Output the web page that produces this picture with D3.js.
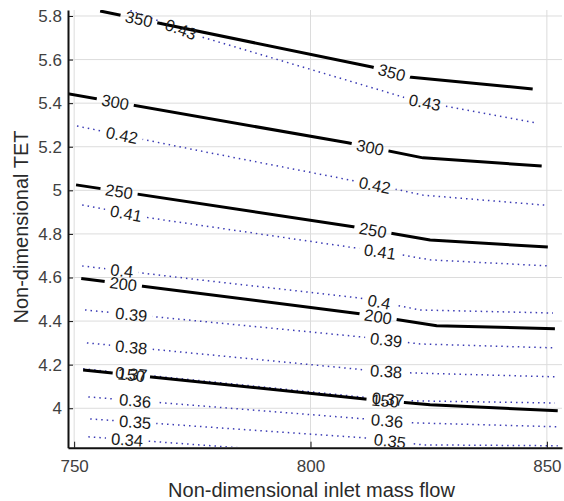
<!DOCTYPE html>
<html>
<head>
<meta charset="utf-8">
<script src="https://cdn.jsdelivr.net/npm/d3@7"></script>
<style>
body { margin: 0; background: #fff; }
svg { display: block; }
</style>
</head>
<body>
<script>
var width = 564, height = 501;
var plotLeft = 68, plotRight = 562, plotTop = 10, plotBottom = 447.7;

// axis limits and ticks
var xLim = [748.7, 853.2];
var yLim = [3.819, 5.8275];
var xTicks = [750, 800, 850];
var yTicks = [4, 4.2, 4.4, 4.6, 4.8, 5, 5.2, 5.4, 5.6, 5.8];

// solid contours (black), points as [mass flow, TET]
var solidLevels = ["350", "300", "250", "200", "150"];
var solidLines = [
   [[755.5, 5.823], [813.0, 5.566], [820.8, 5.520], [847.0, 5.465]],
   [[748.0, 5.446], [807.9, 5.218], [823.8, 5.149], [848.9, 5.112]],
   [[750.4, 5.025], [809.4, 4.832], [825.3, 4.772], [850.2, 4.740]],
   [[751.5, 4.595], [810.4, 4.434], [826.7, 4.379], [851.7, 4.365]],
   [[751.9, 4.176], [811.5, 4.043], [825.3, 4.016], [852.3, 3.988]]
];
var solidLabelX = [[763.7, 817.2], [758.7, 812.6], [759.5, 813.2], [760.4, 814.3], [762.1, 815.8]];

// dotted contours (blue)
var dottedLevels = ["0.43", "0.42", "0.41", "0.4", "0.39", "0.38", "0.37", "0.36", "0.35", "0.34"];
var dottedLines = [
   [[761.9, 5.825], [764.0, 5.809], [777.1, 5.703], [814.7, 5.460], [821.5, 5.415], [847.7, 5.309]],
   [[750.6, 5.295], [776.6, 5.181], [808.4, 5.047], [818.9, 5.001], [823.8, 4.978], [849.6, 4.932]],
   [[751.7, 4.933], [766.1, 4.873], [809.4, 4.736], [819.5, 4.703], [825.3, 4.681], [850.4, 4.653]],
   [[751.7, 4.653], [776.6, 4.589], [810.4, 4.506], [823.2, 4.451], [851.3, 4.437]],
   [[752.3, 4.451], [810.9, 4.327], [823.2, 4.295], [851.7, 4.277]],
   [[752.7, 4.300], [811.5, 4.176], [821.5, 4.162], [852.1, 4.144]],
   [[751.9, 4.181], [811.5, 4.050], [821.7, 4.034], [851.7, 4.024]],
   [[753.0, 4.052], [811.5, 3.951], [821.7, 3.933], [852.3, 3.915]],
   [[753.4, 3.951], [811.5, 3.864], [823.8, 3.832], [852.3, 3.828]],
   [[753.0, 3.869], [783.4, 3.821], [811.5, 3.782]]
];
var dottedLabelX = [[772.6, 824.2], [760.1, 813.6], [761.0, 814.7], [760.1, 814.5], [762.1, 816.0],
   [762.1, 816.0], [762.1, 816.4], [762.9, 816.2], [762.9, 816.8], [761.2]];

var font = "'Liberation Sans', Arial, Helvetica, sans-serif";

var x = d3.scaleLinear().domain(xLim).range([plotLeft, plotRight]);
var y = d3.scaleLinear().domain(yLim).range([plotBottom, plotTop]);

var svg = d3.select("body").append("svg")
   .attr("width", width)
   .attr("height", height)
   .style("font-family", font);

var defs = svg.append("defs");
defs.append("clipPath").attr("id", "plotClip")
   .append("rect")
   .attr("x", plotLeft).attr("y", plotTop)
   .attr("width", plotRight - plotLeft).attr("height", plotBottom - plotTop - 0.7);

// grid
var grid = svg.append("g");
grid.selectAll(".gx").data(xTicks).enter().append("line")
   .attr("x1", function (d) { return x(d); }).attr("x2", function (d) { return x(d); })
   .attr("y1", plotTop).attr("y2", plotBottom)
   .attr("stroke", "#dcdcdc").attr("stroke-width", 1);
grid.selectAll(".gy").data(yTicks).enter().append("line")
   .attr("x1", plotLeft).attr("x2", plotRight)
   .attr("y1", function (d) { return y(d); }).attr("y2", function (d) { return y(d); })
   .attr("stroke", "#dcdcdc").attr("stroke-width", 1);

var line = d3.line()
   .x(function (d) { return x(d[0]); })
   .y(function (d) { return y(d[1]); });

// position + angle on a polyline at data x
function placeOn(pts, xv) {
   for (var i = 0; i < pts.length - 1; i++) {
      if (xv >= pts[i][0] && xv <= pts[i + 1][0]) { break; }
   }
   if (i >= pts.length - 1) { i = pts.length - 2; }
   var x0 = x(pts[i][0]), y0 = y(pts[i][1]), x1 = x(pts[i + 1][0]), y1 = y(pts[i + 1][1]);
   var t = (x(xv) - x0) / (x1 - x0);
   return {
      px: x0 + t * (x1 - x0),
      py: y0 + t * (y1 - y0),
      angle: Math.atan2(y1 - y0, x1 - x0) * 180 / Math.PI
   };
}

var plot = svg.append("g").attr("clip-path", "url(#plotClip)");
var lineLayer = plot.append("g");
var labelLayer = plot.append("g");

function drawContours(levels, lines, labelXs, style, prefix) {
   lines.forEach(function (pts, k) {
      var maskId = prefix + k;
      var mask = defs.append("mask").attr("id", maskId)
         .attr("maskUnits", "userSpaceOnUse")
         .attr("x", 0).attr("y", 0).attr("width", width).attr("height", height);
      mask.append("rect").attr("width", width).attr("height", height).attr("fill", "#fff");

      labelXs[k].forEach(function (lx) {
         var p = placeOn(pts, lx);
         var t = labelLayer.append("text")
            .attr("transform", "translate(" + p.px + "," + p.py + ") rotate(" + p.angle + ")")
            .attr("text-anchor", "middle")
            .attr("dy", "0.36em")
            .attr("font-size", "16.5px")
            .attr("fill", "#1a1a1a")
            .text(levels[k]);
         var w = t.node().getComputedTextLength() + 10;
         mask.append("rect")
            .attr("x", -w / 2).attr("y", -8).attr("width", w).attr("height", 16)
            .attr("transform", "translate(" + p.px + "," + p.py + ") rotate(" + p.angle + ")")
            .attr("fill", "#000");
      });

      var path = lineLayer.append("path")
         .attr("d", line(pts))
         .attr("fill", "none")
         .attr("mask", "url(#" + maskId + ")");
      style(path);
   });
}

drawContours(dottedLevels, dottedLines, dottedLabelX, function (p) {
   p.attr("stroke", "#3a3ab4").attr("stroke-width", 1.5).attr("stroke-dasharray", "1.5,4");
}, "dm");
drawContours(solidLevels, solidLines, solidLabelX, function (p) {
   p.attr("stroke", "#000").attr("stroke-width", 3).attr("stroke-linejoin", "round");
}, "sm");

// axes
var xAxis = svg.append("g")
   .attr("transform", "translate(0," + plotBottom + ")")
   .call(d3.axisBottom(x).tickValues(xTicks).tickFormat(d3.format("d"))
      .tickSizeInner(-6).tickSizeOuter(0).tickPadding(12.5));
var yAxis = svg.append("g")
   .attr("transform", "translate(" + plotLeft + ",0)")
   .call(d3.axisLeft(y).tickValues(yTicks).tickFormat(function (d) { return String(+d.toFixed(1)); })
      .tickSizeInner(-5).tickSizeOuter(0).tickPadding(6));

[xAxis, yAxis].forEach(function (a) {
   a.select(".domain").attr("stroke", "#111").attr("stroke-width", 2);
   a.selectAll(".tick line").attr("stroke", "#111").attr("stroke-width", 1);
   a.selectAll(".tick text")
      .attr("font-family", font)
      .attr("font-size", "17px")
      .attr("fill", "#404040");
});

// axis titles
svg.append("text")
   .attr("x", 311.5).attr("y", 497)
   .attr("text-anchor", "middle")
   .attr("font-size", "20px")
   .attr("fill", "#2a2a2a")
   .text("Non-dimensional inlet mass flow");
svg.append("text")
   .attr("transform", "translate(28,227) rotate(-90)")
   .attr("text-anchor", "middle")
   .attr("font-size", "20px")
   .attr("fill", "#2a2a2a")
   .text("Non-dimensional TET");
</script>
</body>
</html>
